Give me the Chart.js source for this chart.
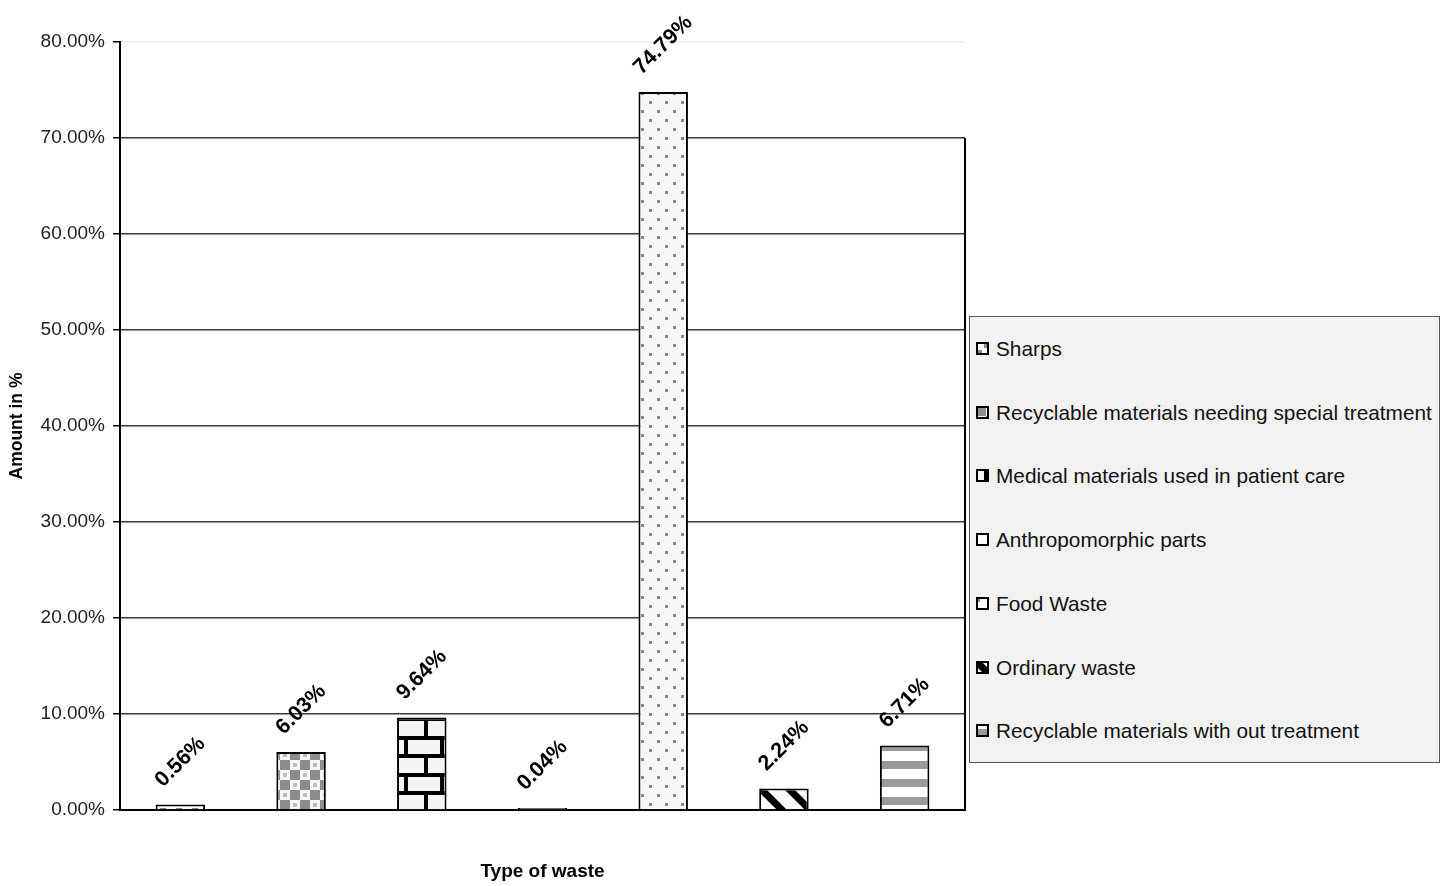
<!DOCTYPE html>
<html lang="en">
<head>
    <meta charset="UTF-8">
    <title>Type of waste</title>
    <style>
        body { margin: 0; background: #fff; }
        #wrap { position: relative; width: 1450px; height: 886px; }
        #legendBox {
            position: absolute; left: 969px; top: 316px; width: 469px; height: 445px;
            background: #f2f2f2; border: 1px solid #555;
            font-family: "Liberation Sans", Arial, sans-serif; font-size: 20.8px; color: #111;
        }
        .item { position: absolute; left: 6px; height: 24px; line-height: 24px; white-space: nowrap; }
        .item canvas { position: absolute; left: 0; top: 5px; }
        .item span { position: absolute; left: 20px; top: 0; }
    </style>
</head>
<body>
<div id="wrap">
    <canvas id="myChart"></canvas>
    <div id="legendBox"></div>
</div>

<script src="https://cdn.jsdelivr.net/npm/chart.js"></script>
<script>
    // data
    const categories = [
        'Sharps',
        'Recyclable materials needing special treatment',
        'Medical materials used in patient care',
        'Anthropomorphic parts',
        'Food Waste',
        'Ordinary waste',
        'Recyclable materials with out treatment'
    ];
    const amounts = [0.56, 6.03, 9.64, 0.04, 74.79, 2.24, 6.71];
    const yTicks = [0, 10, 20, 30, 40, 50, 60, 70, 80];

    // small tiles for the hatch fills
    function tile(w, h, draw) {
        const c = document.createElement('canvas');
        c.width = w; c.height = h;
        const g = c.getContext('2d');
        draw(g, w, h);
        return c;
    }
    const tiles = [
        tile(16, 16, (g, w, h) => {            // sharps
            g.fillStyle = '#fff'; g.fillRect(0, 0, w, h);
            g.fillStyle = '#8a8a8a'; g.fillRect(8, 0, 6, 6); g.fillRect(0, 8, 6, 6);
        }),
        tile(20, 20, (g, w, h) => {            // recyclable special, checks
            g.fillStyle = '#f6f6f6'; g.fillRect(0, 0, w, h);
            g.fillStyle = '#8c8c8c';
            g.fillRect(0, 0, 10, 10); g.fillRect(10, 10, 10, 10);
            g.fillStyle = '#bdbdbd';
            g.fillRect(13, 3, 4, 4); g.fillRect(3, 13, 4, 4);
        }),
        tile(36, 37, (g, w, h) => {            // medical, bricks
            g.fillStyle = '#f5f5f5'; g.fillRect(0, 0, w, h);
            g.fillStyle = '#000';
            g.fillRect(0, 14, w, 4); g.fillRect(0, 33, w, 4);
            g.fillRect(8, 0, 4, 14); g.fillRect(28, 18, 4, 15);
        }),
        tile(8, 8, (g, w, h) => {              // anthropomorphic
            g.fillStyle = '#fff'; g.fillRect(0, 0, w, h);
        }),
        tile(16, 18, (g, w, h) => {            // food waste, dots
            g.fillStyle = '#f7f7f7'; g.fillRect(0, 0, w, h);
            g.fillStyle = '#8a8a8a';
            g.fillRect(1, 2, 3, 3); g.fillRect(9, 11, 3, 3);
        }),
        tile(28, 28, (g, w, h) => {            // ordinary waste, diagonal
            g.fillStyle = '#fafafa'; g.fillRect(0, 0, w, h);
            g.strokeStyle = '#000'; g.lineWidth = 7;
            for (let k = -1; k <= 1; k++) {
                g.beginPath(); g.moveTo(k * 28 - 6, -6); g.lineTo(k * 28 + 34, 34); g.stroke();
            }
        }),
        tile(8, 18, (g, w, h) => {             // recyclable w/o treatment, stripes
            g.fillStyle = '#fff'; g.fillRect(0, 0, w, h);
            g.fillStyle = '#9a9a9a'; g.fillRect(0, 5, w, 8);
        })
    ];

    const canvas = document.getElementById('myChart');
    const ctx = canvas.getContext('2d');
    const fills = tiles.map(t => ctx.createPattern(t, 'repeat'));

    // rotated value labels above each bar
    const valueLabels = {
        id: 'valueLabels',
        afterDatasetsDraw(chart) {
            const c = chart.ctx;
            const meta = chart.getDatasetMeta(0);
            c.save();
            c.font = 'bold 21.5px "Liberation Sans", Arial, sans-serif';
            c.fillStyle = '#000';
            c.textAlign = 'center';
            c.textBaseline = 'middle';
            meta.data.forEach((bar, i) => {
                const txt = amounts[i].toFixed(2) + '%';
                const w = c.measureText(txt).width;
                const boxH = (w + 20) * Math.SQRT1_2;
                c.save();
                c.translate(bar.x, bar.y - 14 - boxH / 2);
                c.rotate(-Math.PI / 4);
                c.fillText(txt, 0, 0);
                c.restore();
            });
            c.restore();
        }
    };

    // right edge of the plot area, from the 70% line down
    const plotEdge = {
        id: 'plotEdge',
        afterDraw(chart) {
            const c = chart.ctx;
            const y = chart.scales.y;
            const x = chart.chartArea.right;
            c.save();
            c.strokeStyle = '#000';
            c.lineWidth = 2;
            c.beginPath();
            c.moveTo(x, y.getPixelForValue(70));
            c.lineTo(x, y.getPixelForValue(0));
            c.stroke();
            c.restore();
        }
    };

    new Chart(ctx, {
        type: 'bar',
        data: {
            labels: categories,
            datasets: [{
                label: 'Amount in %',
                data: amounts,
                backgroundColor: fills,
                borderColor: '#000',
                borderWidth: 2,
                minBarLength: 2,
                barPercentage: 0.41,
                categoryPercentage: 1.0
            }]
        },
        options: {
            responsive: true,
            maintainAspectRatio: false,
            animation: false,
            layout: { padding: { left: 0, right: 485, top: 42, bottom: 0 } },
            plugins: {
                legend: { display: false },
                tooltip: { enabled: false }
            },
            scales: {
                x: {
                    ticks: { display: false },
                    grid: { display: false },
                    border: { display: true, color: '#000', width: 2 },
                    title: {
                        display: true,
                        text: 'Type of waste',
                        color: '#000',
                        font: { family: '"Liberation Sans", Arial, sans-serif', size: 19, weight: 'bold' },
                        padding: { top: 0, bottom: 3 }
                    },
                    afterFit(scale) { scale.height = 76; }
                },
                y: {
                    min: 0,
                    max: 80,
                    afterBuildTicks(scale) { scale.ticks = yTicks.map(v => ({ value: v })); },
                    ticks: {
                        color: '#222',
                        padding: 8,
                        font: { family: '"Liberation Sans", Arial, sans-serif', size: 19 },
                        callback: v => v.toFixed(2) + '%'
                    },
                    grid: {
                        color: ctx => ctx.tick && ctx.tick.value === 80 ? '#eeeeee' : '#3a3a3a',
                        tickColor: '#000',
                        tickLength: 7,
                        lineWidth: 1.5
                    },
                    border: { display: true, color: '#000', width: 2 },
                    title: {
                        display: true,
                        text: 'Amount in %',
                        color: '#000',
                        font: { family: '"Liberation Sans", Arial, sans-serif', size: 17.5, weight: 'bold' },
                        padding: { top: 7, bottom: 0 }
                    },
                    afterFit(scale) { scale.width = 120; }
                }
            }
        },
        plugins: [valueLabels, plotEdge]
    });

    // legend box on the right
    const legendBox = document.getElementById('legendBox');
    categories.forEach((name, i) => {
        const item = document.createElement('div');
        item.className = 'item';
        item.style.top = (20 + i * 63.7) + 'px';
        const sw = document.createElement('canvas');
        sw.width = 13; sw.height = 13;
        const g = sw.getContext('2d');
        g.fillStyle = g.createPattern(tiles[i], 'repeat');
        g.fillRect(0, 0, 13, 13);
        g.strokeStyle = '#000';
        g.lineWidth = 2;
        g.strokeRect(1, 1, 11, 11);
        const label = document.createElement('span');
        label.textContent = name;
        item.appendChild(sw);
        item.appendChild(label);
        legendBox.appendChild(item);
    });
</script>
</body>
</html>
